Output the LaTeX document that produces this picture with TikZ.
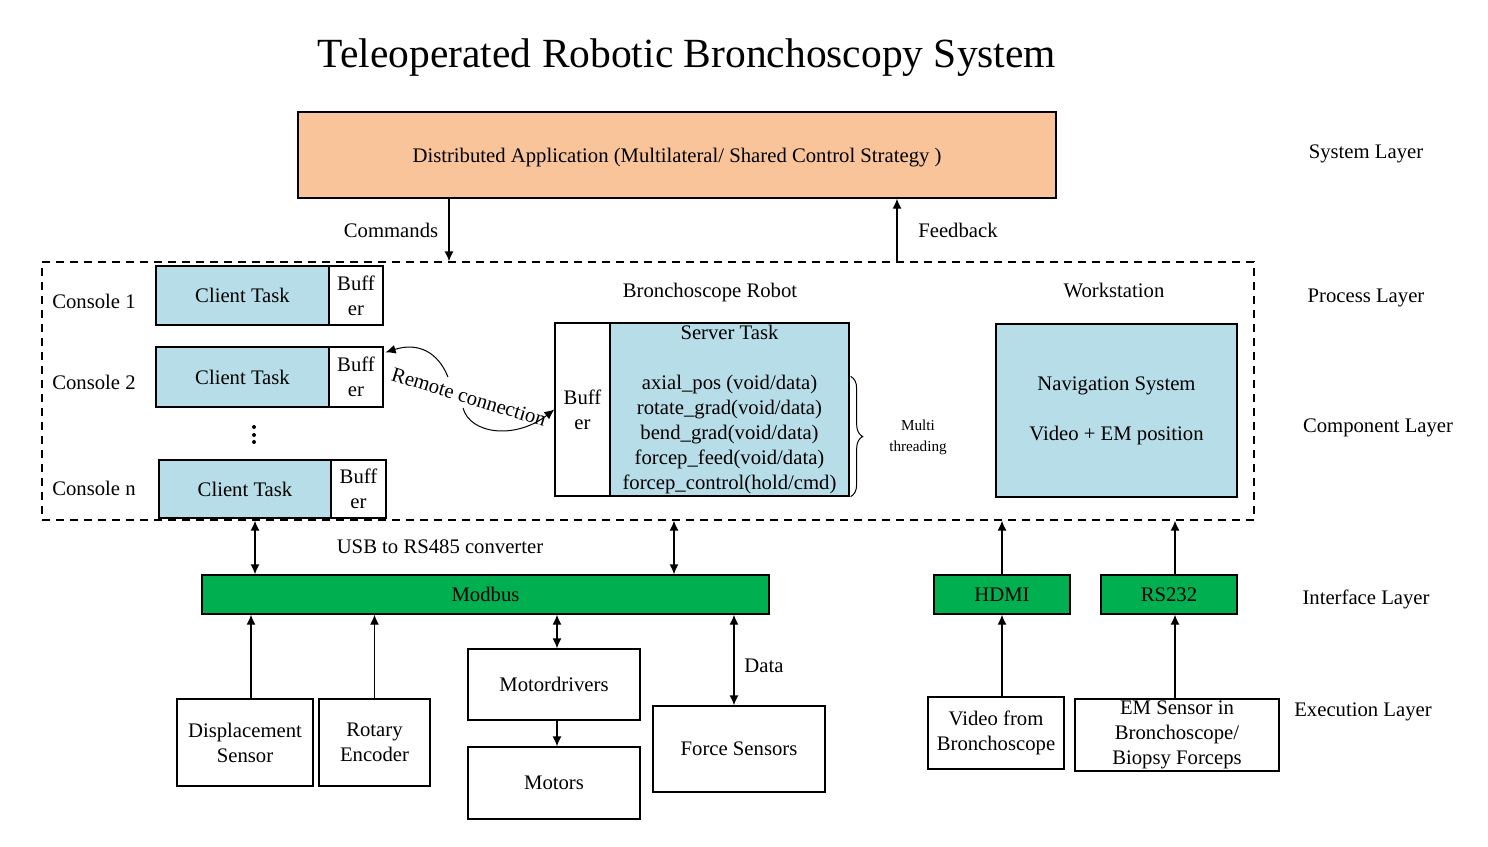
\documentclass[tikz,border=0pt]{standalone}
\usepackage{fontspec}
\setmainfont{Liberation Serif}
\usetikzlibrary{arrows.meta,decorations.pathreplacing,calc}
\definecolor{taskblue}{HTML}{B7DDE8}
\definecolor{peach}{HTML}{F9C499}
\definecolor{busgreen}{HTML}{00B050}
\newcommand\bodyfs{\fontsize{10.35}{12.5}\selectfont}
\begin{document}
\begin{tikzpicture}[x=0.5pt,y=-0.5pt,
  every node/.style={font=\bodyfs},
  wbox/.style={draw, line width=0.65pt, fill=white, inner sep=0pt, align=center},
  tbox/.style={wbox, fill=taskblue},
  gbox/.style={wbox, fill=busgreen, text depth=0pt},
  lbl/.style={inner sep=0pt, align=center},
  slbl/.style={inner sep=0pt, text depth=0pt},
  arr/.style={line width=0.65pt, -{Latex[length=5pt,width=4.5pt]}},
  darr/.style={line width=0.65pt, {Latex[length=5pt,width=4.5pt]}-{Latex[length=5pt,width=4.5pt]}},
]
\useasboundingbox (0,0) rectangle (1488,846);

% title
\node[slbl, font=\fontsize{20.75}{24}\selectfont] (title) at (687,53) {Teleoperated Robotic Bronchoscopy System};

% system layer
\node[wbox, fill=peach, text depth=0pt, minimum width=379pt, minimum height=43pt] (sys) at (677,155) {Distributed Application (Multilateral/ Shared Control Strategy )};

% process container
\node[draw, dash pattern=on 4pt off 3pt, line width=0.6pt, minimum width=606pt, minimum height=129pt, inner sep=0pt] (proc) at (648,391) {};

% layer labels
\node[slbl] (lsys) at (1366,152) {System Layer};
\node[slbl] (lproc) at (1366,296) {Process Layer};
\node[slbl] (lcomp) at (1378,426) {Component Layer};
\node[slbl] (lint) at (1366,597) {Interface Layer};
\node[slbl] (lexe) at (1363,710) {Execution Layer};

% commands / feedback
\coordinate (cmdx) at (449,0);
\coordinate (fbx) at (897,0);
\draw[arr] (sys.south -| cmdx) -- (proc.north -| cmdx);
\draw[arr] (proc.north -| fbx) -- (sys.south -| fbx);
\node[slbl] (lcmd) at (391,230) {Commands};
\node[slbl] (lfb) at (958,230) {Feedback};

% consoles
\node[slbl] (con1) at (94,301) {Console 1};
\node[slbl] (con2) at (94,382) {Console 2};
\node[slbl] (conn) at (94,488) {Console n};

\node[tbox, text depth=0pt, minimum width=86.5pt, minimum height=29.5pt] (c1) at (242.5,295.5) {Client Task};
\node[wbox, minimum width=27pt, minimum height=29.5pt] (b1) at (356,295.5) {Buff\\er};
\node[tbox, text depth=0pt, minimum width=86.5pt, minimum height=30pt] (c2) at (242.5,377) {Client Task};
\node[wbox, minimum width=27pt, minimum height=30pt] (b2) at (356,377) {Buff\\er};
\node[tbox, text depth=0pt, minimum width=86pt, minimum height=29pt] (cn) at (245,489) {Client Task};
\node[wbox, minimum width=27.5pt, minimum height=29pt] (bn) at (358.5,489) {Buff\\er};

\fill (254,427) circle (2);
\fill (254,435) circle (2);
\fill (254,442) circle (2);

% bronchoscope robot
\node[slbl] (lrob) at (710,290) {Bronchoscope Robot};
\node[slbl] (lws) at (1114,290) {Workstation};
\node[wbox, minimum width=27.5pt, minimum height=86.5pt] (sb) at (582.5,409.5) {Buff\\er};
\node[tbox, minimum width=119.5pt, minimum height=86.5pt] (st) at (729.5,409.5) {Server Task\\[12.5pt]axial\_pos (void/data)\\rotate\_grad(void/data)\\bend\_grad(void/data)\\forcep\_feed(void/data)\\forcep\_control(hold/cmd)};
\draw[line width=0.5pt, decorate, decoration={brace, amplitude=6pt}] ($(st.north east)+(1,54)$) -- ($(st.south east)+(1,0)$);
\node[lbl, font=\fontsize{7.6}{10.5}\selectfont] (mt) at (918,437) {Multi\\threading};

% workstation
\node[tbox, minimum width=120.5pt, minimum height=86.5pt] (ws) at (1116.5,410.5) {Navigation System\\[12.5pt]Video + EM position};

% remote connection
\coordinate (rcA) at (448,377);
\coordinate (rcB) at (463,408);
\draw[arr, line width=0.5pt] (rcA) .. controls (438,352) and (418,342) .. ($(b2.north east)+(2,6)$);
\draw[arr, line width=0.5pt] (rcB) .. controls (470,434) and (515,440) .. (sb.west);
\node[slbl, rotate=-17] (rcl) at (469,397) {Remote connection};

% interface layer
\node[gbox, minimum width=283.5pt, minimum height=19.5pt] (mod) at (485.5,594.5) {Modbus};
\node[gbox, minimum width=68pt, minimum height=19.5pt] (hdmi) at (1002,594.5) {HDMI};
\node[gbox, minimum width=68pt, minimum height=19.5pt] (rs) at (1169,594.5) {RS232};
\node[slbl] (usb) at (440,547) {USB to RS485 converter};

\coordinate (ax1) at (255,0);
\coordinate (ax2) at (674,0);
\coordinate (ax3) at (1175,0);
\draw[darr] (proc.south -| ax1) -- (mod.north -| ax1);
\draw[darr] (proc.south -| ax2) -- (mod.north -| ax2);
\draw[arr] (hdmi.north) -- (proc.south -| hdmi.north);
\draw[arr] (rs.north -| ax3) -- (proc.south -| ax3);

% execution layer
\node[wbox, minimum width=68pt, minimum height=43.5pt] (ds) at (245,742.5) {Displacement\\Sensor};
\node[wbox, minimum width=55.5pt, minimum height=43.5pt] (re) at (374.5,742.5) {Rotary\\Encoder};
\node[wbox, text depth=0pt, minimum width=86pt, minimum height=35.5pt] (md) at (554,684.5) {Motordrivers};
\node[wbox, text depth=0pt, minimum width=86pt, minimum height=36pt] (mo) at (554,783) {Motors};
\node[wbox, text depth=0pt, minimum width=86pt, minimum height=43pt] (fs) at (739,749) {Force Sensors};
\node[wbox, minimum width=68pt, minimum height=36pt] (vb) at (996,733) {Video from\\Bronchoscope};
\node[wbox, minimum width=102pt, minimum height=36pt] (em) at (1177,735) {EM Sensor in\\Bronchoscope/\\Biopsy Forceps};
\node[slbl] (ldata) at (764,666) {Data};

\coordinate (bx1) at (251,0);
\coordinate (bx2) at (557,0);
\coordinate (bx3) at (734,0);
\coordinate (bx4) at (1002,0);
\draw[arr] (ds.north -| bx1) -- (mod.south -| bx1);
\draw[arr] (re.north) -- (mod.south -| re.north);
\draw[darr] (mod.south -| bx2) -- (md.north -| bx2);
\draw[arr] (md.south -| bx2) -- (mo.north -| bx2);
\draw[darr] (mod.south -| bx3) -- (fs.north -| bx3);
\draw[arr] (vb.north -| bx4) -- (hdmi.south);
\draw[arr] (em.north -| ax3) -- (rs.south -| ax3);
\end{tikzpicture}
\end{document}
